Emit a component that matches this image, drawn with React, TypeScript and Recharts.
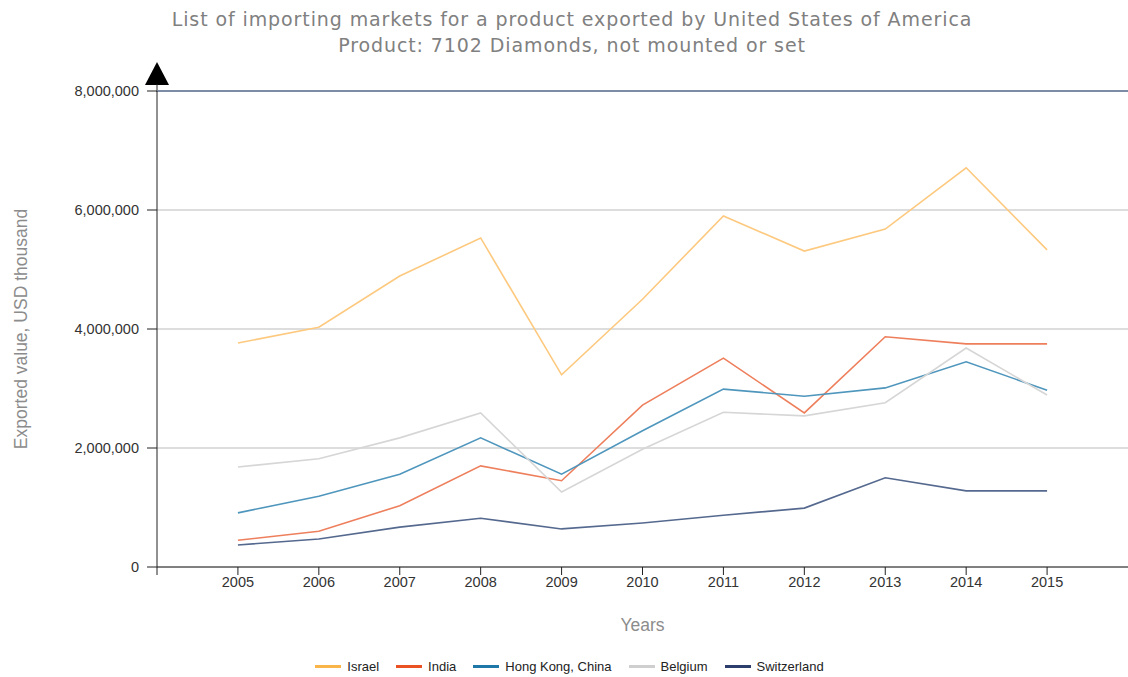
import React from 'react';
import { LineChart, Line, XAxis, YAxis, CartesianGrid, Legend, ReferenceLine } from 'recharts';

const years = [2005, 2006, 2007, 2008, 2009, 2010, 2011, 2012, 2013, 2014, 2015];

// USD thousand, in thousands (x1000 below)
const israel = [3765, 4030, 4890, 5530, 3230, 4500, 5900, 5310, 5680, 6710, 5330];
const india = [450, 600, 1030, 1700, 1450, 2720, 3510, 2590, 3870, 3750, 3750];
const hongKong = [910, 1190, 1560, 2170, 1560, 2290, 2990, 2870, 3010, 3450, 2970];
const belgium = [1680, 1820, 2170, 2590, 1260, 1980, 2600, 2540, 2760, 3680, 2890];
const switzerland = [370, 470, 670, 820, 640, 740, 870, 990, 1500, 1280, 1280];

const xTicks = [2004, 2005, 2006, 2007, 2008, 2009, 2010, 2011, 2012, 2013, 2014, 2015];
const yTicks = [0, 2000000, 4000000, 6000000, 8000000];

const series = [
  { key: 'israel', name: 'Israel', values: israel, line: '#fdc97f', legend: '#f9b44a' },
  { key: 'india', name: 'India', values: india, line: '#ee7f5c', legend: '#ea5224' },
  { key: 'hongKong', name: 'Hong Kong, China', values: hongKong, line: '#4f96bd', legend: '#1f77a8' },
  { key: 'belgium', name: 'Belgium', values: belgium, line: '#d6d6d6', legend: '#cfcfcf' },
  { key: 'switzerland', name: 'Switzerland', values: switzerland, line: '#55698f', legend: '#2c3e6b' },
];

const data = years.map((year, i) => {
  const row: Record<string, number> = { year };
  series.forEach(s => { row[s.key] = s.values[i] * 1000; });
  return row;
});

const fmt = (v: number) => v.toLocaleString('en-US');
const sans = '"Liberation Sans", Arial, sans-serif';

const LegendContent = () => (
  <div style={{ display: 'flex', justifyContent: 'center', alignItems: 'center', gap: 17, height: 20, paddingLeft: 11, fontFamily: sans, fontSize: 13, color: '#222' }}>
    {series.map(s => (
      <div key={s.key} style={{ display: 'flex', alignItems: 'center' }}>
        <span style={{ display: 'inline-block', width: 26, height: 3, background: s.legend, marginRight: 6 }} />
        <span>{s.name}</span>
      </div>
    ))}
  </div>
);

export default function App() {
  return (
    <div style={{ position: 'absolute', left: 0, top: 0, width: 1128, height: 677, background: '#fff' }}>
      <div style={{ position: 'absolute', left: 0, top: 6, width: 1144, textAlign: 'center', fontFamily: '"DejaVu Sans", Verdana, sans-serif', fontSize: 19, letterSpacing: 0.9, lineHeight: '26px', color: '#808080' }}>
        <div>List of importing markets for a product exported by United States of America</div>
        <div>Product: 7102 Diamonds, not mounted or set</div>
      </div>
      <svg style={{ position: 'absolute', left: 0, top: 0 }} width={1128} height={100}>
        <polygon points="145,85 169,85 157,62" fill="#000" />
        <line x1={157} y1={84} x2={157} y2={92} stroke="#222" />
      </svg>
      <div style={{ position: 'absolute', left: 0, top: 0 }}>
        <LineChart width={1128} height={677} data={data} margin={{ top: 91, right: 0, bottom: 1, left: 0 }}>
          <CartesianGrid vertical={false} stroke="#d2d2d2" strokeWidth={1.5} />
          <ReferenceLine y={8000000} stroke="#5d7192" strokeWidth={1.5} />
          <XAxis
            dataKey="year"
            type="number"
            domain={[2004, 2016]}
            ticks={xTicks}
            interval={0}
            tickFormatter={(v: number) => (v === 2004 ? '' : String(v))}
            height={89}
            tickSize={8}
            tickMargin={2}
            stroke="#222"
            tick={{ fill: '#333', fontSize: 14.5, fontFamily: sans }}
            label={{ value: 'Years', position: 'insideBottom', offset: 25, fill: '#8c8c8c', fontSize: 17.5, fontFamily: sans }}
          />
          <YAxis
            type="number"
            domain={[0, 8000000]}
            ticks={yTicks}
            width={157}
            tickSize={10}
            tickMargin={8}
            stroke="#222"
            tickFormatter={fmt}
            tick={{ fill: '#333', fontSize: 14.5, fontFamily: sans }}
            label={{ value: 'Exported value, USD thousand', angle: -90, position: 'insideLeft', offset: 21, fill: '#8c8c8c', fontSize: 17.5, fontFamily: sans, style: { textAnchor: 'middle' } }}
          />
          {series.map(s => (
            <Line
              key={s.key}
              dataKey={s.key}
              name={s.name}
              type="linear"
              stroke={s.line}
              strokeWidth={1.6}
              dot={false}
              isAnimationActive={false}
            />
          ))}
          <Legend verticalAlign="bottom" content={<LegendContent />} />
        </LineChart>
      </div>
    </div>
  );
}
